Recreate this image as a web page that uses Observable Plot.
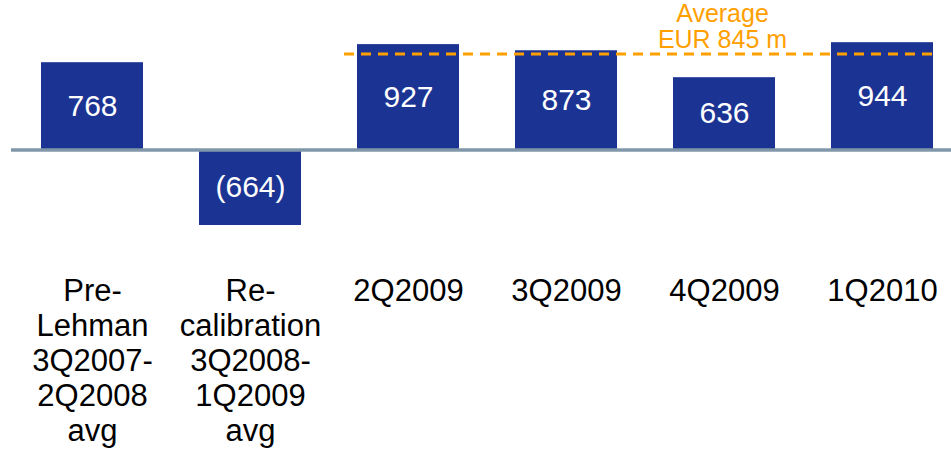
<!DOCTYPE html>
<html>
<head>
<meta charset="utf-8">
<script src="https://cdn.jsdelivr.net/npm/d3@7"></script>
<script src="https://cdn.jsdelivr.net/npm/@observablehq/plot@0.6"></script>
<style>
  html, body { margin: 0; padding: 0; background: #ffffff; }
</style>
</head>
<body>
<div id="chart"></div>
<script>
// Quarterly figures, EUR m (negative value shown in parentheses)
const categories = ["Pre-Lehman", "Re-calibration", "2Q2009", "3Q2009", "4Q2009", "1Q2010"];
const tickLabels = [
  "Pre-\nLehman\n3Q2007-\n2Q2008\navg",
  "Re-\ncalibration\n3Q2008-\n1Q2009\navg",
  "2Q2009", "3Q2009", "4Q2009", "1Q2010"
];
const values = [768, -664, 927, 873, 636, 944];

// Average over the four most recent quarters
const averageValue = 845;
const averageLabel = "Average\nEUR 845 m";
const averageFrom = "2Q2009";
const averageTo = "1Q2010";
const averageLabelAt = "4Q2009";

const data = categories.map((category, i) => ({category, value: values[i]}));
const fmt = v => v < 0 ? `(${-v})` : `${v}`;

const chart = Plot.plot({
  width: 951,
  height: 450,
  marginTop: 0,
  marginBottom: 190,
  marginLeft: 11,
  marginRight: 0,
  style: {fontFamily: "'Liberation Sans', Arial, sans-serif", background: "#ffffff", color: "#000000"},
  x: {domain: categories, range: [40, 933], paddingInner: 0.355, paddingOuter: 0, axis: null},
  y: {domain: [-972, 1315], axis: null},
  marks: [
    Plot.barY(data, {x: "category", y: "value", fill: "#1b3494"}),
    Plot.ruleY([0], {stroke: "#8097aa", strokeWidth: 3.5}),
    Plot.text(data, {
      x: "category",
      y: d => d.value / 2,
      text: d => fmt(d.value),
      fill: "#ffffff",
      fontSize: 30
    }),
    Plot.ruleY([averageValue], {
      x1: () => averageFrom,
      x2: () => averageTo,
      stroke: "#ffa000",
      strokeWidth: 3,
      strokeDasharray: "10,7",
      insetLeft: -13
    }),
    Plot.text([averageLabel], {
      x: () => averageLabelAt,
      y: () => averageValue,
      text: d => d,
      dx: -2,
      dy: -6,
      lineAnchor: "bottom",
      lineHeight: 1.05,
      fill: "#ffa000",
      fontSize: 25
    }),
    Plot.axisX({
      anchor: "bottom",
      tickSize: 0,
      tickPadding: 16,
      fontSize: 31,
      lineHeight: 1.13,
      color: "#000000",
      tickFormat: d => tickLabels[categories.indexOf(d)],
      label: null
    })
  ]
});

document.getElementById("chart").appendChild(chart);
</script>
</body>
</html>
